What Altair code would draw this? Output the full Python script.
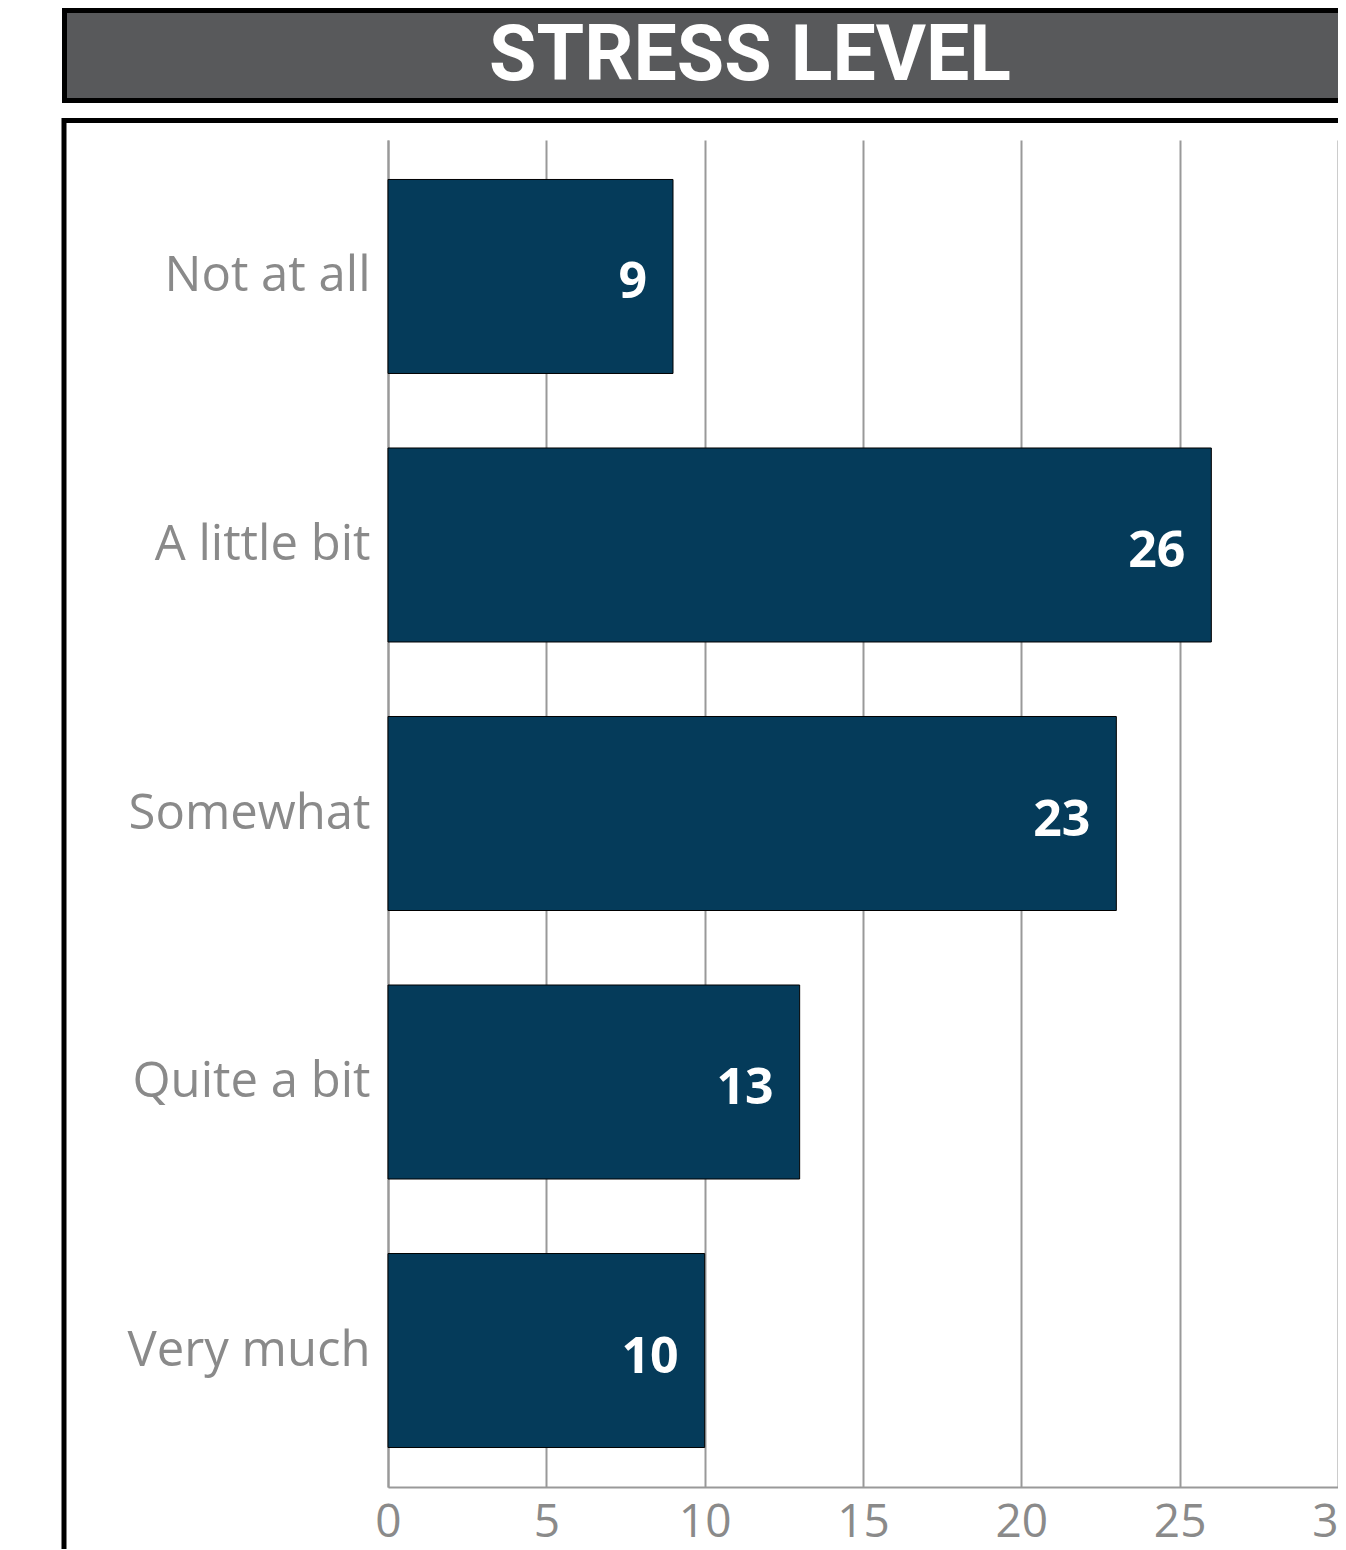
import altair as alt
import pandas as pd

categories = ["Not at all", "A little bit", "Somewhat", "Quite a bit", "Very much"]
values = [9, 26, 23, 13, 10]
x_ticks = [0, 5, 10, 15, 20, 25, 30]
title_text = "STRESS LEVEL"

df = pd.DataFrame({"level": categories, "count": values})
title_df = pd.DataFrame({"t": [title_text]})

W = 950
H = 1347
GRAY = "#8a8a8a"
LINE = "#999999"

x_enc = alt.X(
    "count:Q",
    scale=alt.Scale(domain=[0, 30], nice=False),
    axis=alt.Axis(
        values=x_ticks, grid=True, gridColor=LINE, gridWidth=2,
        domainColor=LINE, domainWidth=2, ticks=False,
        labelFont="Open Sans", labelFontSize=46, labelColor=GRAY,
        labelPadding=13, labelFlush=False, title=None,
    ),
)
y_enc = alt.Y(
    "level:N",
    sort=categories,
    scale=alt.Scale(paddingInner=0.2775, paddingOuter=0.147),
    axis=alt.Axis(
        title=None, ticks=False, grid=False, domainColor=LINE, domainWidth=2,
        labelFont="Open Sans", labelFontSize=49, labelColor=GRAY,
        labelPadding=18, labelLimit=0,
    ),
)

box = alt.Chart(title_df).mark_rect(
    fillOpacity=0, stroke="black", strokeWidth=5
).encode(
    x=alt.value(-324), x2=alt.value(1100),
    y=alt.value(-19.5), y2=alt.value(H + 120),
)

banner = alt.Chart(title_df).mark_rect(
    fill="#58595b", stroke="black", strokeWidth=5
).encode(
    x=alt.value(-323.5), x2=alt.value(1100),
    y=alt.value(-129.5), y2=alt.value(-39.5),
)

title = alt.Chart(title_df).mark_text(
    font="Roboto", fontWeight="bold", fontSize=77, color="white",
    align="center", baseline="alphabetic",
).encode(x=alt.value(362), y=alt.value(-60), text="t:N")

bars = alt.Chart(df).mark_bar(
    color="#053b5a", stroke="black", strokeWidth=1
).encode(x=x_enc, y=y_enc)

labels = alt.Chart(df).mark_text(
    align="right", baseline="middle", dx=-26, dy=7,
    font="Open Sans", fontWeight="bold", fontSize=50, color="white",
).encode(
    x=alt.X("count:Q"),
    y=alt.Y("level:N", sort=categories),
    text="count:Q",
)

chart = alt.layer(box, banner, title, bars, labels).properties(
    width=W, height=H,
    autosize=alt.AutoSizeParams(type="none"),
    padding={"left": 380, "top": 132, "right": 0, "bottom": 62},
    background="white",
).configure_view(stroke=None)

chart.save("out.html", embed_options={"renderer": "svg", "actions": False})
